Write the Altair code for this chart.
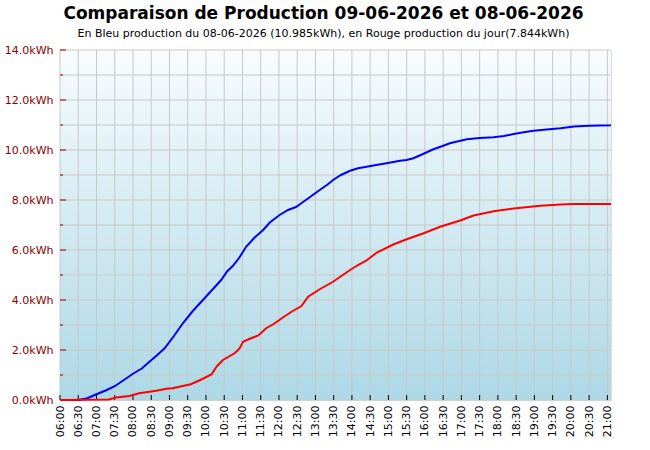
import altair as alt
import pandas as pd

blue_times = ["06:00", "06:30", "06:45", "07:00", "07:15", "07:30", "07:45", "08:00", "08:15", "08:27",
              "08:40", "08:52", "09:07", "09:22", "09:38", "09:55", "10:10", "10:25", "10:35", "10:44",
              "10:55", "11:06", "11:20", "11:34", "11:45", "12:01", "12:15", "12:28", "12:35", "12:50",
              "13:07", "13:20", "13:29", "13:42", "13:57", "14:10", "14:24", "14:40", "14:57", "15:08",
              "15:19", "15:30", "15:41", "15:55", "16:14", "16:28", "16:41", "16:55", "17:09", "17:30",
              "17:53", "18:10", "18:26", "18:45", "18:59", "19:20", "19:43", "20:05", "20:30", "20:49",
              "21:06"]
blue_values = [0.0, 0.0, 0.07, 0.23, 0.38, 0.55, 0.8, 1.05, 1.27, 1.53,
               1.8, 2.07, 2.55, 3.07, 3.55, 4.0, 4.4, 4.8, 5.15, 5.36,
               5.7, 6.13, 6.5, 6.8, 7.1, 7.4, 7.6, 7.72, 7.84, 8.1,
               8.4, 8.62, 8.8, 9.0, 9.17, 9.27, 9.33, 9.4, 9.47, 9.52,
               9.57, 9.6, 9.67, 9.82, 10.03, 10.15, 10.27, 10.35, 10.43, 10.48,
               10.51, 10.56, 10.64, 10.72, 10.77, 10.82, 10.87, 10.94, 10.97, 10.98,
               10.985]

red_times = ["06:00", "07:20", "07:32", "07:54", "08:10", "08:27", "08:38", "08:55", "09:05", "09:22",
             "09:35", "09:49", "10:09", "10:18", "10:28", "10:47", "10:55", "11:01", "11:12", "11:26",
             "11:39", "11:52", "12:07", "12:22", "12:37", "12:48", "13:07", "13:29", "13:45", "13:57",
             "14:10", "14:24", "14:41", "15:08", "15:30", "15:58", "16:25", "16:58", "17:20", "17:53",
             "18:26", "18:50", "19:10", "19:43", "20:05", "21:06"]
red_values = [0.0, 0.02, 0.1, 0.16, 0.27, 0.33, 0.37, 0.45, 0.47, 0.56,
              0.63, 0.78, 1.02, 1.35, 1.6, 1.87, 2.05, 2.33, 2.45, 2.58,
              2.87, 3.05, 3.31, 3.55, 3.76, 4.13, 4.43, 4.73, 5.0, 5.2,
              5.4, 5.58, 5.9, 6.22, 6.43, 6.67, 6.93, 7.18, 7.38, 7.55,
              7.66, 7.72, 7.77, 7.82, 7.84, 7.844]

title_text = "Comparaison de Production 09-06-2026 et 08-06-2026"
subtitle_text = "En Bleu production du 08-06-2026 (10.985kWh), en Rouge production du jour(7.844kWh)"

X_MIN, X_MAX = 360, 1266
x_ticks = list(range(360, 1261, 30))
y_grid = list(range(0, 15))


def to_min(t):
    h, m = t.split(":")
    return int(h) * 60 + int(m)


df = pd.concat([
    pd.DataFrame({"t": [to_min(t) for t in blue_times], "v": blue_values, "s": "bleu"}),
    pd.DataFrame({"t": [to_min(t) for t in red_times], "v": red_values, "s": "rouge"}),
])

W, H = 551, 350
FONT = "DejaVu Sans"
xscale = alt.Scale(domain=[X_MIN, X_MAX], nice=False, zero=False)
yscale = alt.Scale(domain=[0, 14], nice=False)

x_axis = alt.Axis(values=x_ticks, labelAngle=270, labelFont=FONT, labelFontSize=11,
                  labelColor="black", ticks=False, domain=False, grid=False,
                  labelPadding=5, labelOverlap=False, labelFlush=False,
                  labelExpr="(floor(datum.value/60)<10?'0':'')+floor(datum.value/60)+':'+((datum.value%60)<10?'0':'')+(datum.value%60)")
y_axis = alt.Axis(values=list(range(0, 15, 2)), labelFont=FONT, labelFontSize=11,
                  labelColor="#8b0000", ticks=False, domain=False, grid=False,
                  labelPadding=7, labelOverlap=False, labelFlush=False,
                  labelExpr="format(datum.value,'.1f')+'kWh'")


def X(field):
    return alt.X(field, scale=xscale, title=None, axis=x_axis)


def Y(field):
    return alt.Y(field, scale=yscale, title=None, axis=y_axis)


bg = alt.Chart(pd.DataFrame({"a": [0]})).mark_rect(
    color=alt.LinearGradient(
        gradient="linear", x1=0, x2=0, y1=0, y2=1,
        stops=[alt.GradientStop(color="#f8fcfe", offset=0),
               alt.GradientStop(color="#add8e6", offset=1)]
    )
).encode(x=alt.value(0), x2=alt.value(W), y=alt.value(0), y2=alt.value(H))

vgrid = alt.Chart(pd.DataFrame({"t": x_ticks})).mark_rule(color="#c8c8c8", strokeWidth=1).encode(
    x=X("t:Q"), y=alt.value(0), y2=alt.value(H))
hgrid = alt.Chart(pd.DataFrame({"v": y_grid})).mark_rule(color="#c8c8c8", strokeWidth=1).encode(
    y=Y("v:Q"), x=alt.value(0), x2=alt.value(W))

xtick = alt.Chart(pd.DataFrame({"t": x_ticks})).mark_rule(color="black", strokeWidth=1).encode(
    x=X("t:Q"), y=alt.value(H), y2=alt.value(H - 5))
ymaj = alt.Chart(pd.DataFrame({"v": [v for v in y_grid if v % 2 == 0]})).mark_rule(
    color="#8b0000", strokeWidth=1).encode(
    y=Y("v:Q"), x=alt.value(0), x2=alt.value(6))
ymin = alt.Chart(pd.DataFrame({"v": [v for v in y_grid if v % 2 == 1]})).mark_rule(
    color="#8b0000", strokeWidth=1).encode(
    y=Y("v:Q"), x=alt.value(0), x2=alt.value(3))

lines = alt.Chart(df).mark_line(strokeWidth=2, interpolate="linear").encode(
    x=X("t:Q"),
    y=Y("v:Q"),
    color=alt.Color("s:N", scale=alt.Scale(domain=["bleu", "rouge"], range=["#0000ff", "#ff0000"]),
                    legend=None),
)

chart = alt.layer(bg, vgrid, hgrid, xtick, ymaj, ymin, lines).properties(
    width=W, height=H,
    autosize="none",
    padding={"left": 60, "top": 50, "right": 39, "bottom": 50},
    title=alt.TitleParams(
        text=title_text, subtitle=subtitle_text,
        font=FONT, fontSize=17, fontWeight="bold", color="black",
        subtitleFont=FONT, subtitleFontSize=11, subtitleColor="black",
        anchor="middle", dx=-12, offset=4, subtitlePadding=5,
    ),
).configure_view(stroke="black", strokeWidth=1).configure(background="white")

chart.save("out.html", embed_options={"renderer": "svg", "actions": False})
